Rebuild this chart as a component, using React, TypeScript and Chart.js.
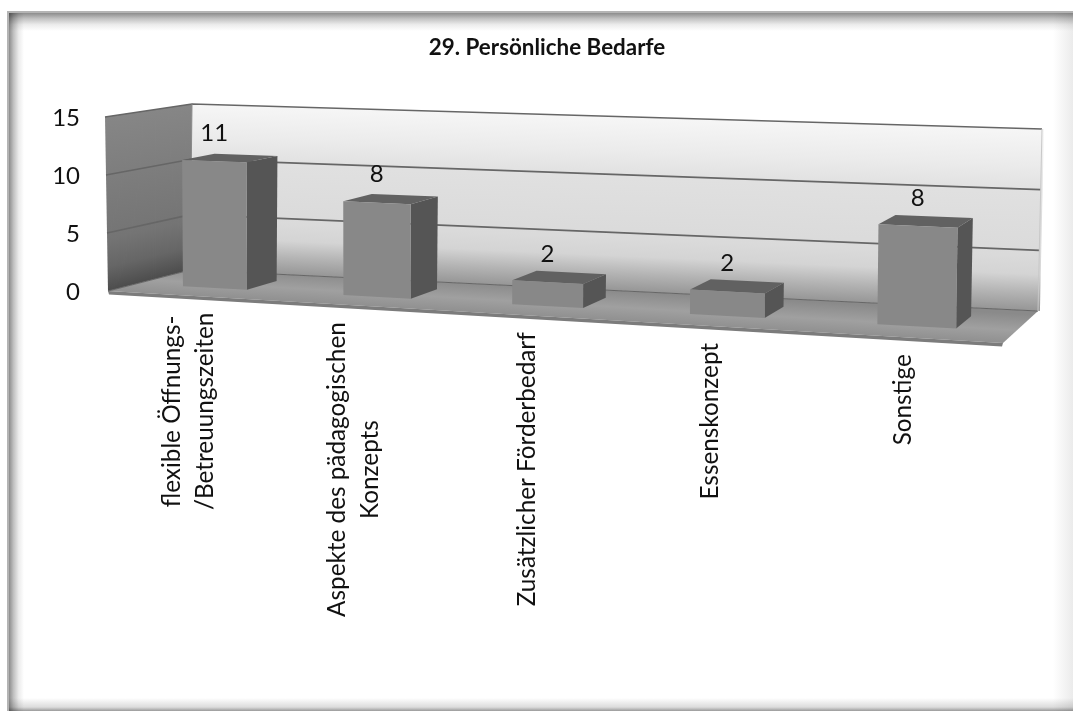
import React, { useEffect, useRef } from "react";
import { Chart, registerables } from "chart.js";

Chart.register(...registerables);

const chartTitle = "29. Persönliche Bedarfe";
const categories = [
  ["flexible Öffnungs-", "/Betreuungszeiten"],
  ["Aspekte des pädagogischen", "Konzepts"],
  ["Zusätzlicher Förderbedarf"],
  ["Essenskonzept"],
  ["Sonstige"],
];
const values = [11, 8, 2, 2, 8];
const axisMax = 15;
const axisStep = 5;

const FONT = "Lato, 'Open Sans', sans-serif";

// Corners of the front and back planes of the 3D box, in canvas pixels.
const front = { b0: [108, 291], t0: [105, 117], b1: [1003, 343], t1: [1005, 148] };
const back = { b0: [190, 270], t0: [192, 104], b1: [1038, 311], t1: [1042, 129] };
const PERSPECTIVE = 0.122;
const BAR_NEAR = 0.35;
const BAR_FAR = 0.74;

const lerp = (a: number, b: number, t: number) => a + (b - a) * t;

// Maps (horizontal fraction, axis value, depth fraction) to canvas pixels.
function project(u: number, v: number, w: number): [number, number] {
  const t = ((1 - PERSPECTIVE) * u) / (1 - PERSPECTIVE * u);
  const f = v / axisMax;
  const onPlane = (p: typeof front, i: number) =>
    lerp(lerp(p.b0[i], p.b1[i], t), lerp(p.t0[i], p.t1[i], t), f);
  return [lerp(onPlane(front, 0), onPlane(back, 0), w), lerp(onPlane(front, 1), onPlane(back, 1), w)];
}

function tracePath(ctx: CanvasRenderingContext2D, pts: [number, number][]) {
  ctx.beginPath();
  pts.forEach((p, i) => (i ? ctx.lineTo(p[0], p[1]) : ctx.moveTo(p[0], p[1])));
  ctx.closePath();
}

function poly(ctx: CanvasRenderingContext2D, pts: [number, number][], fill: string | CanvasGradient) {
  tracePath(ctx, pts);
  ctx.fillStyle = fill;
  ctx.fill();
}

function line(ctx: CanvasRenderingContext2D, pts: [number, number][], color: string, width: number) {
  ctx.beginPath();
  pts.forEach((p, i) => (i ? ctx.lineTo(p[0], p[1]) : ctx.moveTo(p[0], p[1])));
  ctx.strokeStyle = color;
  ctx.lineWidth = width;
  ctx.stroke();
}

// White sheet with the soft dark inner edge around it.
function drawFrame(ctx: CanvasRenderingContext2D, W: number, H: number) {
  ctx.save();
  ctx.fillStyle = "#ffffff";
  ctx.fillRect(0, 0, W, H);
  ctx.globalCompositeOperation = "multiply";
  const L = 7, T = 11;
  const shade = (x0: number, y0: number, x1: number, y1: number) => {
    const g = ctx.createLinearGradient(x0, y0, x1, y1);
    g.addColorStop(0, "#8c8c8c");
    g.addColorStop(0.3, "#c0c0c0");
    g.addColorStop(0.65, "#ececec");
    g.addColorStop(1, "#ffffff");
    return g;
  };
  ctx.fillStyle = shade(L + 2, 0, L + 17, 0);
  ctx.fillRect(L + 2, T, 18, H - T);
  ctx.fillStyle = shade(0, T + 2, 0, T + 20);
  ctx.fillRect(L, T + 2, W - L, 22);
  const gb = ctx.createLinearGradient(0, H, 0, H - 13);
  gb.addColorStop(0, "#9a9a9a");
  gb.addColorStop(0.3, "#dcdcdc");
  gb.addColorStop(1, "#ffffff");
  ctx.fillStyle = gb;
  ctx.fillRect(L, H - 13, W - L, 13);
  const gr = ctx.createLinearGradient(W, 0, W - 20, 0);
  gr.addColorStop(0, "#ebebeb");
  gr.addColorStop(1, "#ffffff");
  ctx.fillStyle = gr;
  ctx.fillRect(W - 20, T, 20, H - T);
  ctx.globalCompositeOperation = "source-over";
  ctx.fillStyle = "#b4b4b4";
  ctx.fillRect(L, T, 2, H - T);
  ctx.fillRect(L, T, W - L, 2);
  ctx.restore();
}

function drawBox(ctx: CanvasRenderingContext2D, ticks: number[]) {
  // Left wall
  const steps = 40;
  for (let i = 0; i < steps; i++) {
    const w0 = i / steps;
    const w1 = (i + 1) / steps + 0.01;
    const a = project(0, 0, w0);
    const b = project(0, axisMax, w0);
    const g = ctx.createLinearGradient(a[0], a[1], b[0], b[1]);
    g.addColorStop(0, "#4c4c4c");
    g.addColorStop(0.14, "#666666");
    g.addColorStop(0.3, "#747474");
    g.addColorStop(1, "#868686");
    poly(ctx, [project(0, 0, w0), project(0, axisMax, w0), project(0, axisMax, w1), project(0, 0, w1)], g);
  }
  // Back wall, shaded strip by strip so the gradient follows the perspective
  const wallSteps = 200;
  for (let i = 0; i < wallSteps; i++) {
    const u0 = i / wallSteps;
    const u1 = (i + 1) / wallSteps + 0.002;
    const a = project(u0, 0, 1);
    const b = project(u0, axisMax, 1);
    const g = ctx.createLinearGradient(a[0], a[1], b[0], b[1]);
    g.addColorStop(0, "#969696");
    g.addColorStop(0.1, "#b4b4b4");
    g.addColorStop(0.2, "#d4d4d4");
    g.addColorStop(0.3, "#dadada");
    g.addColorStop(0.65, "#e0e0e0");
    g.addColorStop(0.8, "#ebebeb");
    g.addColorStop(1, "#f6f6f6");
    poly(ctx, [project(u0, 0, 1), project(u0, axisMax, 1), project(u1, axisMax, 1), project(u1, 0, 1)], g);
  }
  // Floor: the gradient runs in a sheared space so its bands follow the slab's slope
  const fl = project(0, 0, 0);
  const fr = project(1, 0, 0);
  const slope = (fr[1] - fl[1]) / (fr[0] - fl[0]);
  const frontLevel = fl[1] - slope * fl[0];
  ctx.save();
  tracePath(ctx, [fl, fr, project(1, 0, 1), project(0, 0, 1)]);
  ctx.clip();
  ctx.transform(1, slope, 0, 1, 0, 0);
  const floorFill = ctx.createLinearGradient(0, frontLevel - 30, 0, frontLevel);
  floorFill.addColorStop(0, "#8a8a8a");
  floorFill.addColorStop(0.55, "#a0a0a0");
  floorFill.addColorStop(1, "#909090");
  ctx.fillStyle = floorFill;
  ctx.fillRect(0, frontLevel - 80, 1073, 90);
  ctx.restore();
  // Darker front edge of the slab
  const slabDepth = 3.5;
  poly(ctx, [fl, fr, [fr[0] - 1, fr[1] + slabDepth], [fl[0] + 1, fl[1] + slabDepth]], "#7c7c7c");
  // Grid lines running over the left and back walls
  ticks.forEach((v) => {
    const pts = [project(0, v, 0), project(0, v, 1), project(1, v, 1)];
    line(ctx, pts, "#666666", v === 0 ? 1.2 : 1.6);
  });
  line(ctx, [project(0, 0, 1), project(0, axisMax, 1)], "#8a8a8a", 1);
  line(ctx, [project(1, 0, 1), project(1, axisMax, 1)], "#c8c8c8", 1);
}

const box3d = {
  id: "box3d",
  beforeDraw(chart: any) {
    drawFrame(chart.ctx, chart.width, chart.height);
  },
  beforeDatasetsDraw(chart: any) {
    const y = chart.scales.y;
    drawBox(chart.ctx, y.ticks.map((t: any) => t.value));
  },
  afterDatasetsDraw(chart: any) {
    const { ctx, chartArea, scales } = chart;
    const span = chartArea.right - chartArea.left;
    const meta = chart.getDatasetMeta(0);
    meta.data.forEach((bar: any, i: number) => {
      const u0 = (bar.x - bar.width / 2 - chartArea.left) / span;
      const u1 = (bar.x + bar.width / 2 - chartArea.left) / span;
      const v = scales.y.getValueForPixel(bar.y);
      const fbl = project(u0, 0, BAR_NEAR);
      const fbr = project(u1, 0, BAR_NEAR);
      const ftl = project(u0, v, BAR_NEAR);
      const ftr = project(u1, v, BAR_NEAR);
      const bbr = project(u1, 0, BAR_FAR);
      const btr = project(u1, v, BAR_FAR);
      const btl = project(u0, v, BAR_FAR);
      poly(ctx, [fbr, ftr, btr, bbr], "#555555");
      poly(ctx, [ftl, ftr, btr, btl], "#616161");
      poly(ctx, [fbl, ftl, ftr, fbr], "#888888");

      // Value above the bar
      const c = project((u0 + u1) / 2, v, BAR_NEAR);
      ctx.save();
      ctx.fillStyle = "#111111";
      ctx.font = `24px ${FONT}`;
      ctx.textAlign = "center";
      ctx.textBaseline = "middle";
      ctx.fillText(String(values[i]), c[0], c[1] - 28);
      ctx.restore();

      // Rotated category label hanging below the floor
      const uc = (bar.x - chartArea.left) / span;
      const anchor = project(uc, 0, 0);
      const lines = categories[i];
      ctx.save();
      ctx.translate(anchor[0] + 1, anchor[1] + 17);
      ctx.rotate(-Math.PI / 2);
      ctx.fillStyle = "#111111";
      ctx.font = `24.3px ${FONT}`;
      ctx.textBaseline = "middle";
      const widest = Math.max(...lines.map((s) => ctx.measureText(s).width));
      ctx.textAlign = "center";
      lines.forEach((s, j) => {
        ctx.fillText(s, -widest / 2, (j - (lines.length - 1) / 2) * 33);
      });
      ctx.restore();
    });
  },
};

export default function App() {
  const ref = useRef<HTMLCanvasElement>(null);
  useEffect(() => {
    const chart = new Chart(ref.current!, {
      type: "bar",
      data: {
        labels: categories.map((c) => c.join(" ")),
        datasets: [
          {
            data: values,
            backgroundColor: "transparent",
            borderWidth: 0,
            barPercentage: 0.405,
            categoryPercentage: 1,
          },
        ],
      },
      plugins: [box3d],
      options: {
        animation: false,
        responsive: false,
        layout: { padding: { top: 0, left: 0, right: 87, bottom: 419 } },
        plugins: {
          legend: { display: false },
          tooltip: { enabled: false },
          title: {
            display: true,
            text: chartTitle,
            fullSize: false,
            color: "#111111",
            font: { family: FONT, size: 22.4, weight: "bold", lineHeight: 1.2 },
            padding: { top: 34, bottom: 57 },
          },
        },
        scales: {
          x: {
            grid: { display: false, drawTicks: false },
            border: { display: false },
            ticks: { display: false },
          },
          y: {
            min: 0,
            max: axisMax,
            afterFit(scale: any) {
              scale.width = 108;
            },
            grid: { display: false, drawTicks: false },
            border: { display: false },
            ticks: {
              stepSize: axisStep,
              padding: 28,
              color: "#111111",
              font: { family: FONT, size: 24 },
            },
          },
        },
      },
    } as any);
    return () => chart.destroy();
  }, []);
  return (
    <div style={{ position: "absolute", left: 0, top: 0, width: 1073, height: 711 }}>
      <canvas ref={ref} width={1073} height={711} style={{ display: "block" }} />
    </div>
  );
}
